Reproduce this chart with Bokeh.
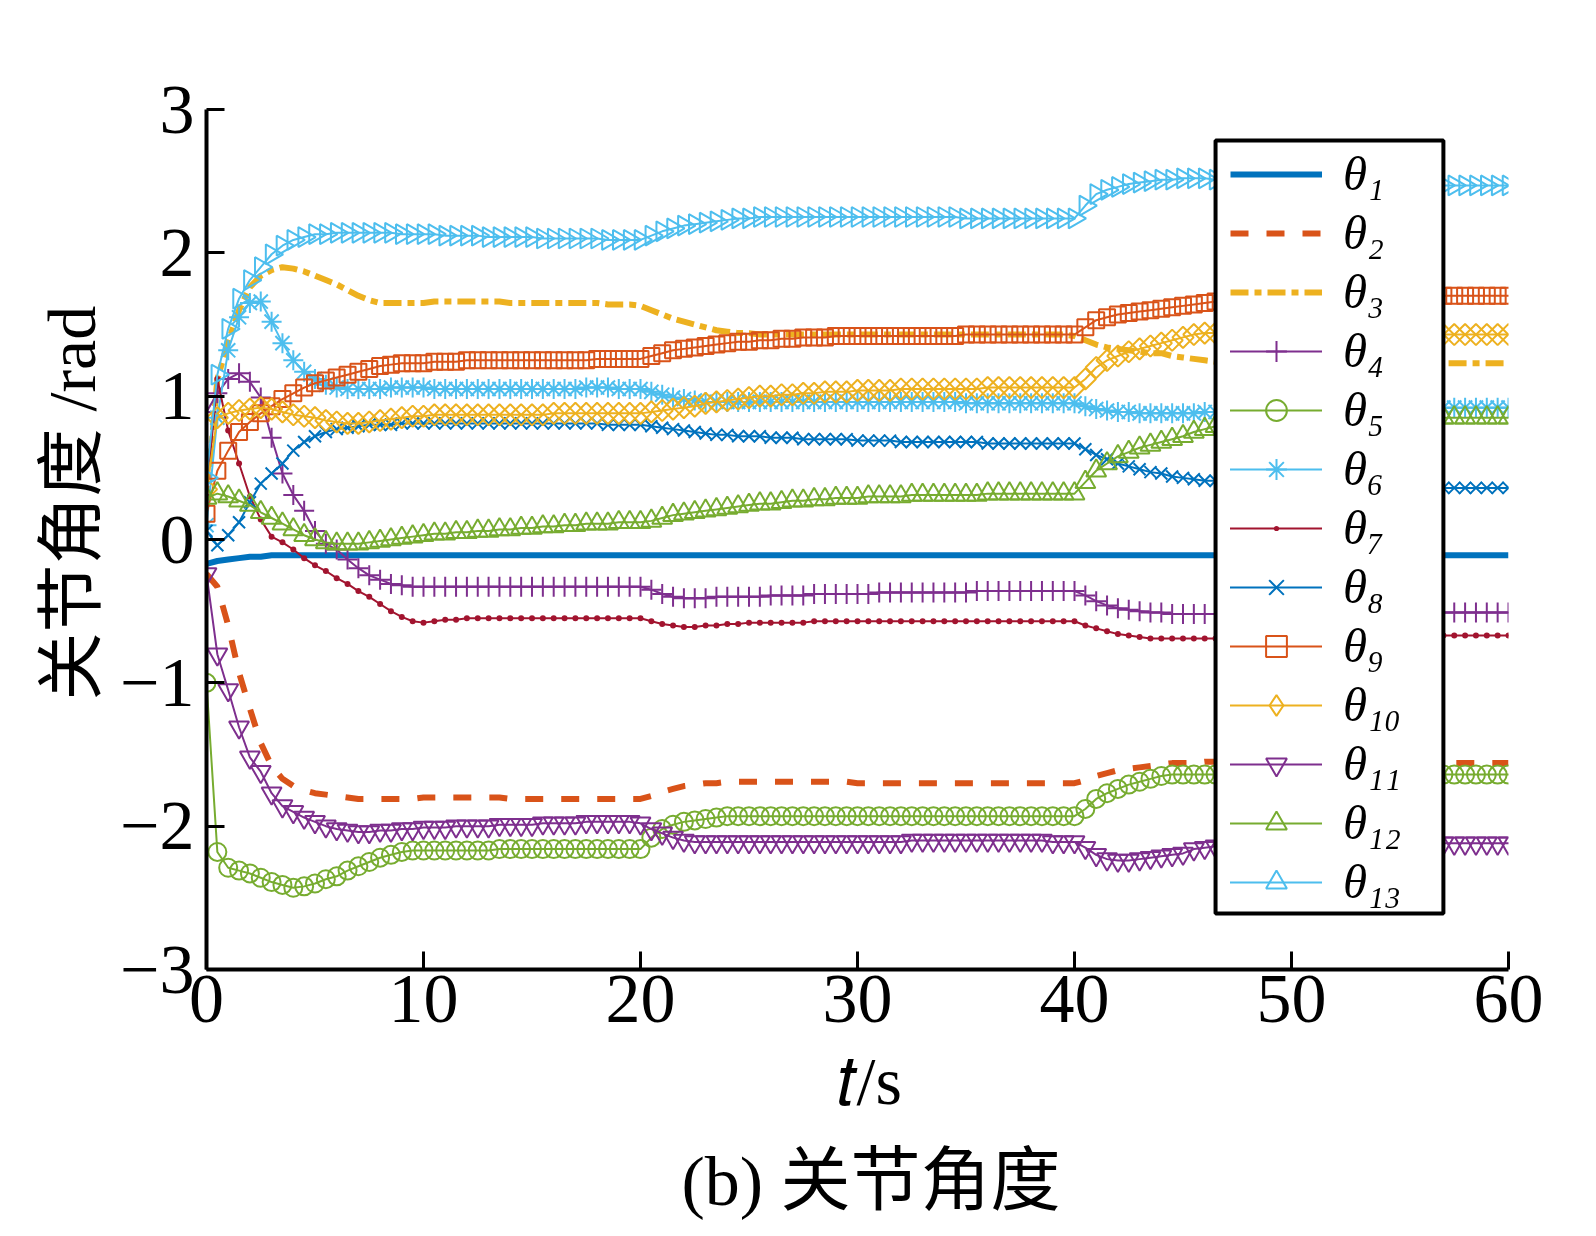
import math
from bokeh.plotting import figure
from bokeh.models import (Range1d, FixedTicker, Legend, LegendItem, BoxAnnotation,
                          ColumnDataSource, Title, CDSView, IndexFilter)
from bokeh.embed import file_html
from bokeh.resources import INLINE

# ---------------- data ----------------
t = [
    0.0, 0.5, 1.0, 1.5, 2.0, 2.5, 3.0, 3.5, 4.0, 4.5,
    5.0, 5.5, 6.0, 6.5, 7.0, 7.5, 8.0, 8.5, 9.0, 9.5,
    10.0, 10.5, 11.0, 11.5, 12.0, 12.5, 13.0, 13.5, 14.0, 14.5,
    15.0, 15.5, 16.0, 16.5, 17.0, 17.5, 18.0, 18.5, 19.0, 19.5,
    20.0, 20.5, 21.0, 21.5, 22.0, 22.5, 23.0, 23.5, 24.0, 24.5,
    25.0, 25.5, 26.0, 26.5, 27.0, 27.5, 28.0, 28.5, 29.0, 29.5,
    30.0, 30.5, 31.0, 31.5, 32.0, 32.5, 33.0, 33.5, 34.0, 34.5,
    35.0, 35.5, 36.0, 36.5, 37.0, 37.5, 38.0, 38.5, 39.0, 39.5,
    40.0, 40.5, 41.0, 41.5, 42.0, 42.5, 43.0, 43.5, 44.0, 44.5,
    45.0, 45.5, 46.0, 46.5, 47.0, 47.5, 48.0, 48.5, 49.0, 49.5,
    50.0, 50.5, 51.0, 51.5, 52.0, 52.5, 53.0, 53.5, 54.0, 54.5,
    55.0, 55.5, 56.0, 56.5, 57.0, 57.5, 58.0, 58.5, 59.0, 59.5,
    60.0]

theta1 = [
    -0.17, -0.15, -0.14, -0.13, -0.12, -0.12, -0.11, -0.11, -0.11, -0.11,
    -0.11, -0.11, -0.11, -0.11, -0.11, -0.11, -0.11, -0.11, -0.11, -0.11,
    -0.11, -0.11, -0.11, -0.11, -0.11, -0.11, -0.11, -0.11, -0.11, -0.11,
    -0.11, -0.11, -0.11, -0.11, -0.11, -0.11, -0.11, -0.11, -0.11, -0.11,
    -0.11, -0.11, -0.11, -0.11, -0.11, -0.11, -0.11, -0.11, -0.11, -0.11,
    -0.11, -0.11, -0.11, -0.11, -0.11, -0.11, -0.11, -0.11, -0.11, -0.11,
    -0.11, -0.11, -0.11, -0.11, -0.11, -0.11, -0.11, -0.11, -0.11, -0.11,
    -0.11, -0.11, -0.11, -0.11, -0.11, -0.11, -0.11, -0.11, -0.11, -0.11,
    -0.11, -0.11, -0.11, -0.11, -0.11, -0.11, -0.11, -0.11, -0.11, -0.11,
    -0.11, -0.11, -0.11, -0.11, -0.11, -0.11, -0.11, -0.11, -0.11, -0.11,
    -0.11, -0.11, -0.11, -0.11, -0.11, -0.11, -0.11, -0.11, -0.11, -0.11,
    -0.11, -0.11, -0.11, -0.11, -0.11, -0.11, -0.11, -0.11, -0.11, -0.11,
    -0.11]

theta2 = [
    -0.24, -0.33, -0.60, -0.93, -1.18, -1.42, -1.58, -1.67, -1.72, -1.75,
    -1.77, -1.78, -1.79, -1.80, -1.81, -1.81, -1.81, -1.81, -1.81, -1.81,
    -1.80, -1.80, -1.80, -1.80, -1.80, -1.80, -1.80, -1.80, -1.81, -1.81,
    -1.81, -1.81, -1.81, -1.81, -1.81, -1.81, -1.81, -1.81, -1.81, -1.81,
    -1.81, -1.79, -1.76, -1.74, -1.72, -1.71, -1.70, -1.70, -1.69, -1.69,
    -1.69, -1.69, -1.69, -1.69, -1.69, -1.69, -1.69, -1.69, -1.69, -1.69,
    -1.70, -1.70, -1.70, -1.70, -1.70, -1.70, -1.70, -1.70, -1.70, -1.70,
    -1.70, -1.70, -1.70, -1.70, -1.70, -1.70, -1.70, -1.70, -1.70, -1.70,
    -1.70, -1.68, -1.65, -1.63, -1.61, -1.60, -1.59, -1.58, -1.57, -1.56,
    -1.56, -1.56, -1.55, -1.55, -1.55, -1.55, -1.55, -1.55, -1.55, -1.55,
    -1.55, -1.55, -1.55, -1.55, -1.55, -1.55, -1.55, -1.55, -1.55, -1.55,
    -1.56, -1.56, -1.56, -1.56, -1.56, -1.56, -1.56, -1.56, -1.56, -1.56,
    -1.56]

theta3 = [
    0.25, 1.12, 1.38, 1.60, 1.76, 1.84, 1.88, 1.90, 1.89, 1.87,
    1.84, 1.81, 1.78, 1.74, 1.70, 1.67, 1.65, 1.65, 1.65, 1.65,
    1.65, 1.66, 1.66, 1.66, 1.66, 1.66, 1.66, 1.66, 1.65, 1.65,
    1.65, 1.65, 1.65, 1.65, 1.65, 1.65, 1.65, 1.64, 1.64, 1.64,
    1.63, 1.60, 1.57, 1.54, 1.52, 1.50, 1.48, 1.46, 1.45, 1.44,
    1.44, 1.43, 1.43, 1.43, 1.43, 1.43, 1.43, 1.43, 1.43, 1.43,
    1.43, 1.43, 1.43, 1.43, 1.43, 1.43, 1.43, 1.43, 1.43, 1.43,
    1.43, 1.43, 1.43, 1.43, 1.43, 1.43, 1.43, 1.43, 1.43, 1.43,
    1.42, 1.39, 1.36, 1.34, 1.33, 1.32, 1.31, 1.30, 1.30, 1.28,
    1.27, 1.26, 1.25, 1.24, 1.24, 1.24, 1.24, 1.23, 1.23, 1.23,
    1.23, 1.23, 1.23, 1.23, 1.23, 1.23, 1.23, 1.23, 1.23, 1.23,
    1.23, 1.23, 1.23, 1.23, 1.23, 1.23, 1.23, 1.23, 1.23, 1.23,
    1.23]

theta4 = [
    0.89, 1.02, 1.12, 1.16, 1.10, 0.99, 0.71, 0.46, 0.31, 0.20,
    0.06, -0.03, -0.07, -0.14, -0.20, -0.25, -0.28, -0.31, -0.32, -0.33,
    -0.33, -0.33, -0.33, -0.33, -0.33, -0.33, -0.33, -0.33, -0.33, -0.33,
    -0.33, -0.33, -0.33, -0.33, -0.33, -0.33, -0.33, -0.33, -0.33, -0.33,
    -0.33, -0.35, -0.38, -0.40, -0.41, -0.41, -0.41, -0.40, -0.40, -0.40,
    -0.40, -0.40, -0.39, -0.39, -0.39, -0.39, -0.38, -0.38, -0.38, -0.38,
    -0.38, -0.38, -0.37, -0.37, -0.37, -0.37, -0.37, -0.37, -0.37, -0.37,
    -0.37, -0.36, -0.36, -0.36, -0.36, -0.36, -0.36, -0.36, -0.36, -0.36,
    -0.36, -0.39, -0.43, -0.46, -0.48, -0.49, -0.50, -0.51, -0.51, -0.52,
    -0.52, -0.52, -0.52, -0.52, -0.52, -0.52, -0.52, -0.52, -0.52, -0.52,
    -0.52, -0.52, -0.52, -0.52, -0.51, -0.51, -0.51, -0.51, -0.51, -0.51,
    -0.51, -0.51, -0.51, -0.51, -0.51, -0.51, -0.51, -0.51, -0.51, -0.51,
    -0.51]

theta5 = [
    -1.00, -2.18, -2.29, -2.31, -2.33, -2.36, -2.39, -2.41, -2.43, -2.42,
    -2.40, -2.37, -2.35, -2.31, -2.28, -2.25, -2.22, -2.20, -2.18, -2.17,
    -2.17, -2.17, -2.17, -2.17, -2.17, -2.17, -2.17, -2.16, -2.16, -2.16,
    -2.16, -2.16, -2.16, -2.16, -2.16, -2.16, -2.16, -2.16, -2.16, -2.16,
    -2.16, -2.08, -2.02, -1.99, -1.97, -1.96, -1.95, -1.94, -1.93, -1.93,
    -1.93, -1.93, -1.93, -1.93, -1.93, -1.93, -1.93, -1.93, -1.93, -1.93,
    -1.93, -1.93, -1.93, -1.93, -1.93, -1.93, -1.93, -1.93, -1.93, -1.93,
    -1.93, -1.93, -1.93, -1.93, -1.93, -1.93, -1.93, -1.93, -1.93, -1.93,
    -1.93, -1.88, -1.81, -1.77, -1.74, -1.71, -1.69, -1.67, -1.65, -1.64,
    -1.64, -1.64, -1.64, -1.64, -1.64, -1.64, -1.64, -1.64, -1.64, -1.64,
    -1.64, -1.64, -1.64, -1.64, -1.64, -1.64, -1.64, -1.64, -1.64, -1.64,
    -1.64, -1.64, -1.64, -1.64, -1.64, -1.64, -1.64, -1.64, -1.64, -1.64,
    -1.64]

theta6 = [
    0.10, 0.85, 1.32, 1.55, 1.65, 1.66, 1.52, 1.37, 1.25, 1.17,
    1.12, 1.08, 1.06, 1.05, 1.05, 1.05, 1.05, 1.06, 1.06, 1.06,
    1.06, 1.05, 1.05, 1.05, 1.05, 1.05, 1.05, 1.05, 1.05, 1.05,
    1.05, 1.05, 1.05, 1.05, 1.05, 1.06, 1.06, 1.06, 1.05, 1.05,
    1.05, 1.03, 1.01, 0.99, 0.98, 0.97, 0.96, 0.96, 0.96, 0.96,
    0.96, 0.96, 0.96, 0.96, 0.96, 0.96, 0.96, 0.96, 0.96, 0.96,
    0.96, 0.96, 0.96, 0.96, 0.96, 0.96, 0.96, 0.96, 0.96, 0.96,
    0.95, 0.95, 0.95, 0.95, 0.95, 0.95, 0.95, 0.95, 0.95, 0.95,
    0.95, 0.93, 0.91, 0.90, 0.89, 0.89, 0.88, 0.88, 0.88, 0.88,
    0.88, 0.88, 0.89, 0.89, 0.89, 0.90, 0.90, 0.90, 0.91, 0.91,
    0.91, 0.91, 0.92, 0.92, 0.92, 0.92, 0.92, 0.92, 0.92, 0.92,
    0.92, 0.92, 0.92, 0.92, 0.92, 0.92, 0.92, 0.92, 0.92, 0.92,
    0.92]

theta7 = [
    0.30, 1.12, 0.76, 0.53, 0.30, 0.14, 0.02, -0.02, -0.07, -0.13,
    -0.18, -0.22, -0.27, -0.31, -0.36, -0.40, -0.45, -0.50, -0.54, -0.57,
    -0.58, -0.57, -0.56, -0.56, -0.55, -0.55, -0.55, -0.55, -0.55, -0.55,
    -0.55, -0.55, -0.55, -0.55, -0.55, -0.55, -0.55, -0.55, -0.55, -0.55,
    -0.55, -0.57, -0.59, -0.60, -0.61, -0.61, -0.60, -0.60, -0.59, -0.59,
    -0.58, -0.58, -0.58, -0.58, -0.58, -0.58, -0.57, -0.57, -0.57, -0.57,
    -0.57, -0.57, -0.57, -0.57, -0.57, -0.57, -0.57, -0.57, -0.57, -0.57,
    -0.57, -0.57, -0.57, -0.57, -0.57, -0.57, -0.57, -0.57, -0.57, -0.57,
    -0.57, -0.60, -0.62, -0.64, -0.66, -0.67, -0.68, -0.69, -0.69, -0.69,
    -0.69, -0.69, -0.69, -0.69, -0.69, -0.69, -0.68, -0.68, -0.68, -0.68,
    -0.68, -0.68, -0.68, -0.68, -0.68, -0.68, -0.68, -0.68, -0.68, -0.68,
    -0.67, -0.67, -0.67, -0.67, -0.67, -0.67, -0.67, -0.67, -0.67, -0.67,
    -0.67]

theta8 = [
    0.06, -0.04, 0.03, 0.12, 0.26, 0.39, 0.46, 0.53, 0.62, 0.68,
    0.72, 0.75, 0.77, 0.78, 0.79, 0.80, 0.80, 0.80, 0.81, 0.81,
    0.81, 0.81, 0.81, 0.81, 0.81, 0.81, 0.81, 0.81, 0.81, 0.81,
    0.81, 0.81, 0.81, 0.81, 0.81, 0.81, 0.81, 0.80, 0.80, 0.80,
    0.80, 0.79, 0.78, 0.77, 0.76, 0.75, 0.74, 0.73, 0.73, 0.72,
    0.72, 0.72, 0.71, 0.71, 0.71, 0.70, 0.70, 0.70, 0.70, 0.70,
    0.69, 0.69, 0.69, 0.69, 0.68, 0.68, 0.68, 0.68, 0.68, 0.68,
    0.68, 0.68, 0.67, 0.67, 0.67, 0.67, 0.67, 0.67, 0.67, 0.67,
    0.67, 0.63, 0.59, 0.56, 0.53, 0.51, 0.49, 0.47, 0.46, 0.44,
    0.43, 0.42, 0.41, 0.41, 0.40, 0.40, 0.39, 0.39, 0.39, 0.38,
    0.38, 0.38, 0.37, 0.37, 0.37, 0.37, 0.36, 0.36, 0.36, 0.36,
    0.36, 0.36, 0.36, 0.36, 0.36, 0.36, 0.36, 0.36, 0.36, 0.36,
    0.36]

theta9 = [
    0.18, 0.48, 0.62, 0.75, 0.82, 0.88, 0.93, 0.98, 1.02, 1.06,
    1.09, 1.11, 1.13, 1.15, 1.17, 1.19, 1.21, 1.22, 1.23, 1.23,
    1.23, 1.24, 1.24, 1.24, 1.25, 1.25, 1.25, 1.25, 1.25, 1.25,
    1.25, 1.25, 1.25, 1.25, 1.25, 1.25, 1.26, 1.26, 1.26, 1.26,
    1.26, 1.28, 1.30, 1.32, 1.33, 1.34, 1.35, 1.36, 1.37, 1.38,
    1.38, 1.39, 1.39, 1.40, 1.40, 1.41, 1.41, 1.41, 1.42, 1.42,
    1.42, 1.42, 1.42, 1.42, 1.42, 1.42, 1.42, 1.42, 1.42, 1.42,
    1.43, 1.43, 1.43, 1.43, 1.43, 1.43, 1.43, 1.43, 1.43, 1.43,
    1.43, 1.48, 1.53, 1.55, 1.57, 1.58, 1.59, 1.60, 1.61, 1.62,
    1.63, 1.64, 1.65, 1.66, 1.67, 1.67, 1.68, 1.68, 1.69, 1.69,
    1.70, 1.70, 1.70, 1.70, 1.70, 1.70, 1.70, 1.70, 1.70, 1.70,
    1.70, 1.70, 1.70, 1.70, 1.70, 1.70, 1.70, 1.70, 1.70, 1.70,
    1.70]

theta10 = [
    0.35, 0.85, 0.88, 0.90, 0.91, 0.92, 0.91, 0.89, 0.87, 0.86,
    0.85, 0.83, 0.82, 0.81, 0.81, 0.82, 0.83, 0.84, 0.85, 0.86,
    0.86, 0.87, 0.87, 0.87, 0.87, 0.87, 0.87, 0.87, 0.87, 0.87,
    0.87, 0.87, 0.88, 0.88, 0.88, 0.88, 0.88, 0.88, 0.88, 0.88,
    0.88, 0.89, 0.90, 0.91, 0.92, 0.93, 0.95, 0.96, 0.97, 0.98,
    0.99, 1.00, 1.00, 1.01, 1.01, 1.02, 1.02, 1.03, 1.03, 1.03,
    1.04, 1.04, 1.04, 1.04, 1.05, 1.05, 1.05, 1.05, 1.05, 1.05,
    1.05, 1.05, 1.06, 1.06, 1.06, 1.06, 1.06, 1.06, 1.06, 1.06,
    1.06, 1.12, 1.20, 1.25, 1.28, 1.31, 1.33, 1.35, 1.37, 1.39,
    1.41, 1.43, 1.44, 1.44, 1.44, 1.44, 1.44, 1.44, 1.44, 1.44,
    1.43, 1.43, 1.43, 1.43, 1.43, 1.43, 1.43, 1.43, 1.43, 1.43,
    1.43, 1.43, 1.43, 1.43, 1.43, 1.43, 1.43, 1.43, 1.43, 1.43,
    1.43]

theta11 = [
    -0.24, -0.80, -1.05, -1.31, -1.52, -1.62, -1.77, -1.86, -1.90, -1.94,
    -1.97, -2.00, -2.02, -2.03, -2.04, -2.04, -2.03, -2.03, -2.02, -2.02,
    -2.01, -2.01, -2.01, -2.00, -2.00, -2.00, -2.00, -1.99, -1.99, -1.99,
    -1.99, -1.98, -1.98, -1.98, -1.98, -1.97, -1.97, -1.97, -1.97, -1.97,
    -1.98, -2.02, -2.05, -2.08, -2.10, -2.11, -2.11, -2.11, -2.11, -2.11,
    -2.11, -2.11, -2.11, -2.11, -2.11, -2.11, -2.11, -2.11, -2.11, -2.11,
    -2.11, -2.11, -2.11, -2.11, -2.11, -2.10, -2.10, -2.10, -2.10, -2.10,
    -2.10, -2.10, -2.10, -2.10, -2.10, -2.10, -2.10, -2.10, -2.11, -2.11,
    -2.11, -2.15, -2.20, -2.23, -2.24, -2.24, -2.23, -2.22, -2.21, -2.20,
    -2.19, -2.16, -2.15, -2.14, -2.14, -2.13, -2.13, -2.13, -2.12, -2.12,
    -2.12, -2.12, -2.12, -2.12, -2.12, -2.12, -2.12, -2.12, -2.12, -2.12,
    -2.12, -2.12, -2.12, -2.12, -2.12, -2.12, -2.12, -2.12, -2.12, -2.12,
    -2.12]

theta12 = [
    0.29, 0.32, 0.30, 0.27, 0.24, 0.19, 0.15, 0.11, 0.07, 0.03,
    0.00, -0.02, -0.03, -0.03, -0.03, -0.02, -0.01, 0.00, 0.01, 0.02,
    0.03, 0.04, 0.04, 0.05, 0.05, 0.06, 0.06, 0.07, 0.07, 0.08,
    0.08, 0.09, 0.09, 0.10, 0.10, 0.11, 0.11, 0.11, 0.12, 0.12,
    0.12, 0.13, 0.15, 0.17, 0.18, 0.19, 0.20, 0.21, 0.22, 0.23,
    0.24, 0.25, 0.25, 0.26, 0.27, 0.27, 0.28, 0.28, 0.29, 0.29,
    0.29, 0.30, 0.30, 0.30, 0.30, 0.31, 0.31, 0.31, 0.31, 0.31,
    0.31, 0.31, 0.32, 0.32, 0.32, 0.32, 0.32, 0.32, 0.32, 0.32,
    0.32, 0.40, 0.48, 0.53, 0.58, 0.61, 0.64, 0.66, 0.68, 0.70,
    0.72, 0.75, 0.77, 0.79, 0.80, 0.81, 0.82, 0.83, 0.84, 0.84,
    0.85, 0.85, 0.85, 0.85, 0.85, 0.85, 0.85, 0.85, 0.85, 0.85,
    0.85, 0.85, 0.85, 0.85, 0.85, 0.85, 0.85, 0.85, 0.85, 0.85,
    0.85]

theta13 = [
    0.43, 1.15, 1.47, 1.68, 1.81, 1.90, 1.99, 2.05, 2.09, 2.11,
    2.13, 2.13, 2.14, 2.14, 2.14, 2.14, 2.14, 2.14, 2.13, 2.13,
    2.13, 2.13, 2.12, 2.12, 2.12, 2.12, 2.11, 2.11, 2.11, 2.11,
    2.11, 2.10, 2.10, 2.10, 2.10, 2.10, 2.10, 2.09, 2.09, 2.09,
    2.09, 2.12, 2.15, 2.17, 2.19, 2.20, 2.21, 2.22, 2.23, 2.24,
    2.24, 2.25, 2.25, 2.25, 2.25, 2.25, 2.25, 2.25, 2.25, 2.25,
    2.25, 2.25, 2.25, 2.25, 2.25, 2.25, 2.25, 2.25, 2.25, 2.25,
    2.24, 2.24, 2.24, 2.24, 2.24, 2.24, 2.24, 2.24, 2.24, 2.24,
    2.24, 2.33, 2.41, 2.44, 2.46, 2.48, 2.49, 2.50, 2.51, 2.51,
    2.52, 2.52, 2.52, 2.51, 2.51, 2.51, 2.50, 2.50, 2.50, 2.49,
    2.49, 2.49, 2.49, 2.48, 2.48, 2.48, 2.48, 2.48, 2.48, 2.48,
    2.47, 2.47, 2.47, 2.47, 2.47, 2.47, 2.47, 2.47, 2.47, 2.47,
    2.47]

series = [theta1, theta2, theta3, theta4, theta5, theta6, theta7,
          theta8, theta9, theta10, theta11, theta12, theta13]
labels = ["θ₁", "θ₂", "θ₃", "θ₄", "θ₅", "θ₆", "θ₇",
          "θ₈", "θ₉", "θ₁₀", "θ₁₁", "θ₁₂", "θ₁₃"]
x_ticks = [0, 10, 20, 30, 40, 50, 60]
y_ticks = [-3, -2, -1, 0, 1, 2, 3]
y_tick_labels = {-3: "−3", -2: "−2", -1: "−1", 0: "0", 1: "1", 2: "2", 3: "3"}
x_title = "𝑡/s"
y_title = "关节角度 /rad"
caption = "(b) 关节角度"

# ---------------- styles ----------------
C1, C2, C3, C4, C5, C6, C7 = ("#0072BD", "#D95319", "#EDB120", "#7E2F8E",
                              "#77AC30", "#4DBEEE", "#A2142F")
styles = [
    dict(color=C1, lw=6, dash="solid", marker=None),
    dict(color=C2, lw=6, dash="18 18", marker=None),
    dict(color=C3, lw=6, dash="18 6 7 6", marker=None),
    dict(color=C4, lw=2, dash="solid", marker="cross", size=20, angle=0.0, fill=False),
    dict(color=C5, lw=2, dash="solid", marker="circle", size=18, angle=0.0, fill=False),
    dict(color=C6, lw=2, dash="solid", marker="asterisk", size=20, angle=0.0, fill=False),
    dict(color=C7, lw=2, dash="solid", marker="dot", size=24, angle=0.0, fill=True),
    dict(color=C1, lw=2, dash="solid", marker="x", size=17, angle=0.0, fill=False),
    dict(color=C2, lw=2, dash="solid", marker="square", size=16, angle=0.0, fill=False),
    dict(color=C3, lw=2, dash="solid", marker="square", size=15, angle=math.pi / 4, fill=False,
         legend_marker="diamond"),
    dict(color=C4, lw=2, dash="solid", marker="inverted_triangle", size=20, angle=0.0, fill=False),
    dict(color=C5, lw=2, dash="solid", marker="triangle", size=20, angle=0.0, fill=False),
    dict(color=C6, lw=2, dash="solid", marker="triangle", size=20, angle=-math.pi / 2, fill=False),
]

SERIF = "Liberation Serif"
SERIF_CJK = "Liberation Serif, Noto Sans CJK SC"

# ---------------- figure ----------------
p = figure(width=1590, height=1230, output_backend="svg", toolbar_location=None,
           x_range=Range1d(0, 60), y_range=Range1d(-3, 3),
           min_border_left=206, min_border_right=82,
           min_border_top=109, min_border_bottom=261)
p.outline_line_color = None
p.background_fill_color = "white"
p.border_fill_color = "white"
p.xgrid.visible = False
p.ygrid.visible = False

for ax in (p.xaxis[0], p.yaxis[0]):
    ax.axis_line_width = 4
    ax.axis_line_color = "black"
    ax.major_tick_in = 18
    ax.major_tick_out = 0
    ax.major_tick_line_width = 3
    ax.major_tick_line_color = "black"
    ax.minor_tick_line_color = None
    ax.major_label_text_font = SERIF
    ax.major_label_text_font_size = "70px"
    ax.major_label_text_color = "black"
p.xaxis.ticker = FixedTicker(ticks=x_ticks)
p.yaxis.ticker = FixedTicker(ticks=y_ticks)
p.yaxis.major_label_overrides = y_tick_labels
p.xaxis.major_label_standoff = 6
p.yaxis.major_label_standoff = 12

items = []
for name, ys, st in zip(labels, series, styles):
    src = ColumnDataSource(dict(t=t, v=ys))
    r = p.line("t", "v", source=src, line_color=st["color"], line_width=st["lw"],
               line_dash=st["dash"], line_join="round",
               line_cap="butt" if st["lw"] > 3 else "round")
    rs = [r]
    if st["marker"]:
        fill = st["color"] if st["fill"] else None
        m = p.scatter("t", "v", source=src, marker=st["marker"], size=st["size"],
                      angle=st["angle"], line_color=st["color"], line_width=2,
                      fill_color=fill)
        if "legend_marker" in st:
            # legend key only: one sample of the same data, lying under the legend box
            k = p.scatter("t", "v", source=src, marker=st["legend_marker"], size=st["size"],
                          line_color=st["color"], line_width=2, fill_color=None,
                          view=CDSView(filter=IndexFilter(indices=[100])))
            rs.append(k)
        else:
            rs.append(m)
    items.append(LegendItem(label=name, renderers=rs))

# legend frame (white box with black border)
box = BoxAnnotation(left=46.50, right=57.00, top=2.784, bottom=-2.609,
                    fill_color="white", fill_alpha=1.0,
                    line_color="black", line_width=4, line_alpha=1.0)
p.add_layout(box)

legend = Legend(items=items, location=(1024, 58), orientation="vertical",
                padding=0, spacing=0, margin=0,
                glyph_width=92, glyph_height=52, label_height=59,
                label_standoff=21, label_width=85,
                label_text_font=SERIF, label_text_font_style="italic",
                label_text_font_size="49px", label_text_color="black",
                background_fill_alpha=0.0, border_line_alpha=0.0)
p.add_layout(legend)

# ---------------- axis titles & caption ----------------
# align="left": offset is measured from the frame's left (below) / bottom (left) edge
p.add_layout(Title(text=y_title, align="left", offset=269, standoff=16,
                   text_font=SERIF_CJK, text_font_size="68px",
                   text_font_style="normal", text_color="black"), "left")
p.add_layout(Title(text=x_title, align="left", offset=630, standoff=32,
                   text_font=SERIF, text_font_size="68px",
                   text_font_style="normal", text_color="black"), "below")
p.add_layout(Title(text=caption, align="left", offset=475, standoff=12,
                   text_font=SERIF_CJK, text_font_size="70px",
                   text_font_style="normal", text_color="black"), "below")

open("out.html", "w").write(file_html(p, INLINE))
